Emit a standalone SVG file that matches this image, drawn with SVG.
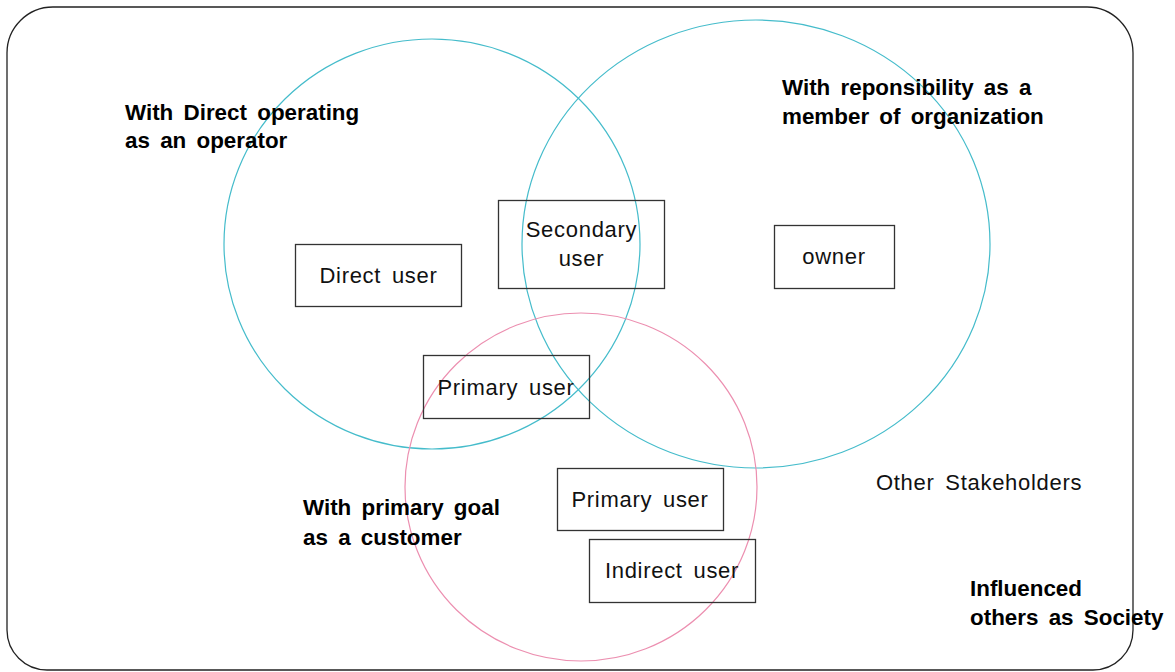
<svg xmlns="http://www.w3.org/2000/svg" width="1175" height="672" viewBox="0 0 1175 672">
<style>
.frame{fill:none;stroke:#222;stroke-width:1.3}
.teal{fill:none;stroke:#45bccb;stroke-width:1.2}
.pink{fill:none;stroke:#ec8fb0;stroke-width:1.2}
.box{fill:none;stroke:#333;stroke-width:1.3}
.t{font-family:"Liberation Sans",Arial,sans-serif;font-size:22px;fill:#111;letter-spacing:0.7px;word-spacing:4px}
.b{font-family:"Liberation Sans",Arial,sans-serif;font-size:22.4px;font-weight:bold;fill:#000;word-spacing:4px}
</style>
<rect width="1175" height="672" fill="#fff"/>
<path class="frame" d="M53,7 H1087 A46,46 0 0 1 1133,53 V630 A40,40 0 0 1 1093,670 H47 A40,40 0 0 1 7,630 V53 A46,46 0 0 1 53,7 Z"/>
<g id="circles">
<ellipse class="teal" cx="432" cy="244" rx="208" ry="205"/>
<ellipse class="teal" cx="756" cy="244" rx="234" ry="224"/>
<ellipse class="pink" cx="581" cy="487" rx="176" ry="174"/>
</g>
<g id="labels">
<text class="b" x="125" y="120">With Direct operating</text>
<text class="b" x="125" y="148">as an operator</text>
<text class="b" x="782" y="95">With reponsibility as a</text>
<text class="b" x="782" y="124">member of organization</text>
<text class="b" x="303" y="515">With primary goal</text>
<text class="b" x="303" y="545">as a customer</text>
<text class="t" x="876" y="490">Other Stakeholders</text>
<text class="b" x="970" y="596">Influenced</text>
<text class="b" x="970" y="625">others as Society</text>
</g>
<g id="direct-user"><rect class="box" x="295.5" y="244.5" width="166" height="62"/><text class="t" x="378.5" y="283" text-anchor="middle">Direct user</text></g>
<g id="secondary-user"><rect class="box" x="498.5" y="200.5" width="166" height="88"/><text class="t" x="581.5" y="237" text-anchor="middle">Secondary</text><text class="t" x="581.5" y="266" text-anchor="middle">user</text></g>
<g id="owner"><rect class="box" x="774.5" y="225.5" width="120" height="63"/><text class="t" x="834" y="264" text-anchor="middle">owner</text></g>
<g id="primary-user-1"><rect class="box" x="423.5" y="355.5" width="166" height="63"/><text class="t" x="506" y="395" text-anchor="middle">Primary user</text></g>
<g id="primary-user-2"><rect class="box" x="557.5" y="468.5" width="166" height="62"/><text class="t" x="640" y="507" text-anchor="middle">Primary user</text></g>
<g id="indirect-user"><rect class="box" x="589.5" y="539.5" width="166" height="63"/><text class="t" x="672" y="578" text-anchor="middle">Indirect user</text></g>
<g id="connectors"></g>
</svg>
